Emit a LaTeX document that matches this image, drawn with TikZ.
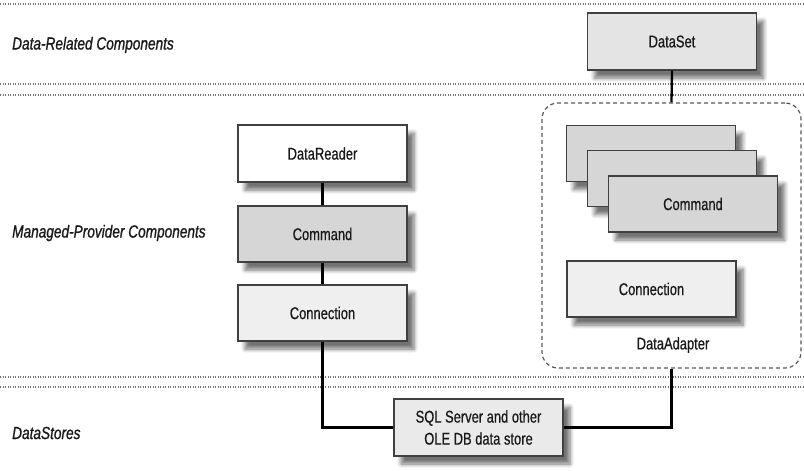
\documentclass[tikz,border=0pt]{standalone}
\usepackage{fontspec}
\newfontfamily\boxfont[FakeStretch=0.76,FakeBold=0.6]{Liberation Sans}
\newfontfamily\layerfont[FakeStretch=0.78,FakeBold=1]{Liberation Sans}
\usetikzlibrary{shadows.blur}
\definecolor{cmdgray}{HTML}{D6D6D6}
\definecolor{conngray}{HTML}{EFEFEF}
\definecolor{setgray}{HTML}{E4E4E4}
\definecolor{sqlgray}{HTML}{EAEAEA}
\begin{document}
\begin{tikzpicture}[x=1pt,y=-1pt,
  sep/.style={draw=black!55, line width=1.1pt, dash pattern=on 1.3pt off 1.2pt},
  comp/.style={draw=black!75, line width=1.2pt, minimum width=169pt, minimum height=57pt,
    inner sep=0pt, align=center, text=black!90,
    font=\boxfont\fontsize{17}{22}\selectfont,
    blur shadow={shadow xshift=7pt, shadow yshift=-8pt, shadow blur steps=6,
      shadow blur radius=4pt, shadow opacity=55}},
  link/.style={draw=black, line width=2.3pt},
  layer/.style={anchor=west, inner sep=0pt, text=black!90,
    font=\layerfont\itshape\fontsize{17.5}{21}\selectfont},
  group/.style={draw=black!65, line width=1.2pt, dash pattern=on 4pt off 3pt,
    rounded corners=16pt, minimum width=259pt, minimum height=265pt, inner sep=0pt}
]
\useasboundingbox (0,0) rectangle (804,471);

% layer separators
\draw[sep] (0,4) -- (804,4);
\draw[sep] (0,84) -- (804,84);
\draw[sep] (0,95) -- (804,95);
\draw[sep] (0,377) -- (804,377);
\draw[sep] (0,387) -- (804,387);

% layer labels
\node[layer] (l1) at (12,45) {Data-Related Components};
\node[layer] (l2) at (12,233) {Managed-Provider Components};
\node[layer] (l3) at (12,433) {DataStores};

% data adapter group
\node[group] (da) at (671.5,235.5) {};
\node[text=black!90, font=\boxfont\fontsize{17}{22}\selectfont] (dalbl) at (673,345) {DataAdapter};

% components
\node[comp, fill=setgray] (ds) at (672,41.5) {DataSet};

\node[comp, fill=white] (dr) at (322.5,153.5) {DataReader};
\node[comp, fill=cmdgray, minimum height=56pt] (lcmd) at (322.5,234) {Command};
\node[comp, fill=conngray, minimum height=56pt] (lconn) at (322.5,313) {Connection};

\node[comp, fill=cmdgray, minimum height=56pt] (cmd1) at (651,153.5) {};
\node[comp, fill=cmdgray, minimum height=56pt] (cmd2) at (672,178.5) {};
\node[comp, fill=cmdgray, minimum height=56pt] (cmd3) at (693,204) {Command};

\node[comp, fill=conngray, minimum height=56pt] (rconn) at (651.5,289) {Connection};

\node[comp, fill=sqlgray] (sql) at (478.5,427.5) {SQL Server and other\\OLE DB data store};

% connectors
\draw[link] (ds.south) -- (da.north);
\draw[link] (dr.south) -- (lcmd.north);
\draw[link] (lcmd.south) -- (lconn.north);
\draw[link] (lconn.south) |- (sql.west);
\draw[link] (sql.east) -| (da.south);
\end{tikzpicture}
\end{document}
